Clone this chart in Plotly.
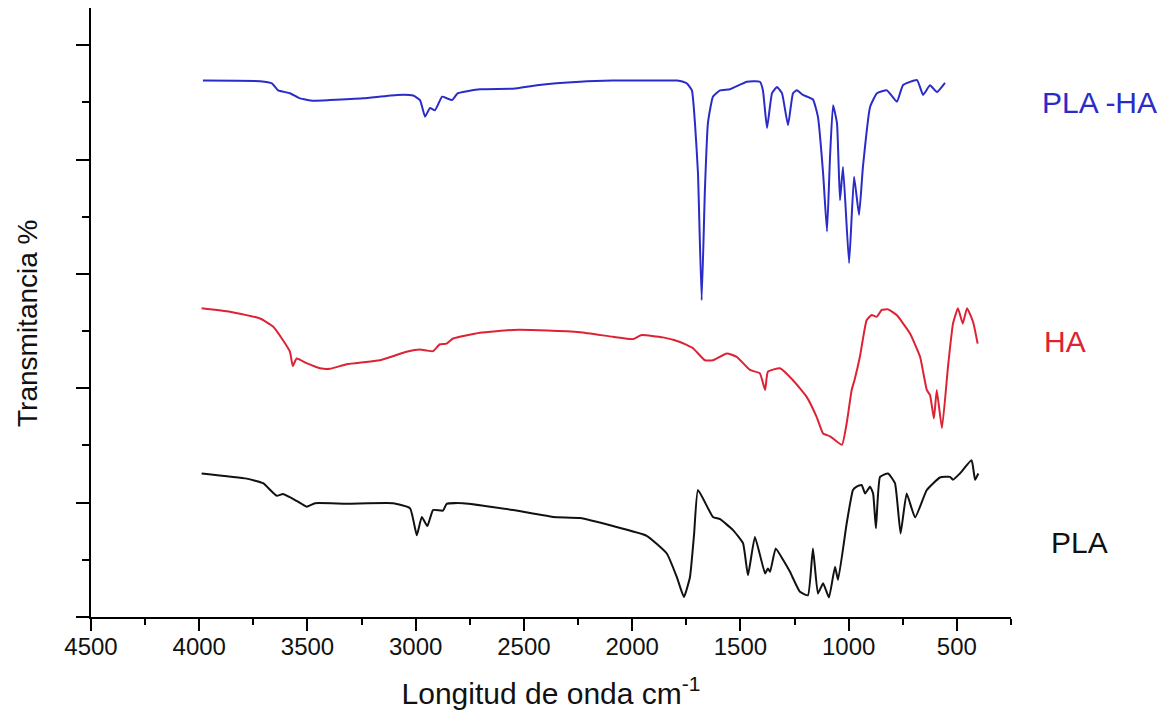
import plotly.graph_objects as go

# ---- data (wavenumber cm-1, transmittance arb. units) ----
pla_ha_wn = [3983, 3719, 3664, 3636, 3581, 3534, 3474, 3396, 3243, 3086,
             3012, 2980, 2957, 2934, 2911, 2878, 2855, 2832, 2805, 2703,
             2550, 2440, 2241, 2089, 1932, 1793, 1765, 1747, 1724, 1710,
             1696, 1679, 1664, 1650, 1627, 1594, 1548, 1470, 1410, 1396,
             1377, 1354, 1331, 1308, 1280, 1257, 1239, 1211, 1165, 1142,
             1118, 1100, 1086, 1072, 1054, 1040, 1026, 998, 975, 952,
             934, 901, 869, 823, 777, 749, 684, 656, 624, 592, 555]
pla_ha_t = [93.8, 93.7, 93.3, 92.1, 91.6, 90.7, 90.3, 90.4, 90.7, 91.3,
            91.2, 90.4, 87.5, 89.0, 88.6, 91.0, 90.7, 90.4, 91.6, 92.3,
            92.4, 93.0, 93.6, 93.8, 93.8, 93.8, 93.6, 93.3, 92.1, 86.4,
            77.6, 55.4, 74.7, 86.4, 91.0, 92.1, 92.3, 93.6, 93.6, 92.1,
            85.5, 91.6, 92.7, 91.6, 86.0, 91.6, 92.1, 91.3, 90.5, 87.5,
            77.6, 67.4, 80.5, 89.5, 86.4, 72.9, 78.7, 61.9, 77.0, 70.3,
            78.7, 89.2, 91.6, 92.1, 90.1, 93.0, 93.9, 91.3, 93.0, 91.8, 93.4]

ha_wn = [3989, 3858, 3719, 3659, 3613, 3581, 3568, 3550, 3504, 3442,
         3396, 3319, 3165, 3042, 2980, 2949, 2920, 2888, 2857, 2828,
         2703, 2550, 2393, 2241, 2089, 1996, 1956, 1858, 1779, 1719,
         1664, 1627, 1563, 1517, 1456, 1410, 1386, 1373, 1317, 1257,
         1194, 1148, 1118, 1086, 1031, 1009, 986, 971, 948, 917,
         894, 870, 847, 818, 778, 717, 670, 639, 624, 606,
         593, 569, 541, 518, 495, 473, 453, 425, 404]
ha_t = [54.0, 53.4, 52.2, 50.8, 48.4, 46.4, 43.9, 45.2, 44.4, 43.5,
        43.4, 44.2, 44.9, 46.4, 46.8, 46.6, 46.5, 47.7, 47.8, 48.7,
        49.7, 50.2, 50.1, 49.8, 49.0, 48.6, 49.3, 48.9, 48.1, 47.0,
        44.9, 44.9, 46.1, 45.5, 43.2, 42.6, 39.7, 42.9, 43.5, 41.4,
        38.5, 35.0, 32.1, 31.6, 30.1, 33.9, 39.7, 41.7, 45.5, 51.9,
        52.8, 52.5, 53.7, 53.8, 52.8, 49.6, 45.5, 39.7, 38.8, 34.7,
        39.7, 33.0, 43.8, 51.3, 54.0, 51.3, 54.0, 51.6, 47.8]

pla_wn = [3989, 3781, 3705, 3642, 3613, 3550, 3504, 3465, 3319, 3105,
          3026, 2995, 2972, 2946, 2920, 2874, 2857, 2782, 2550, 2366,
          2241, 2089, 1933, 1840, 1794, 1761, 1733, 1714, 1696, 1627,
          1594, 1534, 1488, 1465, 1433, 1386, 1373, 1363, 1337, 1303,
          1271, 1225, 1188, 1165, 1142, 1118, 1091, 1063, 1049, 1009,
          980, 963, 940, 924, 901, 887, 874, 855, 818, 786,
          760, 732, 693, 639, 578, 532, 518, 486, 432, 416, 401]
pla_t = [25.1, 24.2, 23.4, 21.2, 21.5, 20.3, 19.3, 19.9, 19.8, 19.9,
         19.0, 14.3, 17.5, 15.9, 18.7, 18.6, 19.8, 19.9, 18.7, 17.5,
         17.3, 15.9, 14.2, 11.1, 7.0, 3.5, 7.0, 14.5, 22.2, 17.5,
         17.1, 15.2, 12.9, 7.3, 14.0, 7.6, 8.5, 7.9, 12.0, 10.0,
         7.9, 4.4, 3.8, 12.0, 4.1, 5.9, 3.4, 8.8, 6.5, 16.4,
         22.2, 22.8, 23.1, 21.6, 22.8, 21.6, 15.5, 24.5, 25.1, 23.4,
         14.6, 21.6, 17.4, 22.2, 24.4, 24.5, 24.0, 25.1, 27.4, 24.0, 25.1]

series_names = ["PLA -HA", "HA", "PLA"]
series_colors = ["#2b2bc8", "#dd2233", "#111111"]
label_y = [0.845, 0.4516, 0.123]
label_x = [1.0315, 1.0335, 1.0415]

x_range = [4500, 250]
y_range = [0, 106.5]

FONT = "Liberation Sans, Arial, sans-serif"

fig = go.Figure()
for name, wn, t, col in zip(series_names,
                            [pla_ha_wn, ha_wn, pla_wn],
                            [pla_ha_t, ha_t, pla_t],
                            series_colors):
    fig.add_trace(go.Scatter(x=wn, y=t, mode="lines", name=name,
                             line=dict(color=col, width=2,
                                       shape="spline", smoothing=0.4),
                             showlegend=False))

for name, col, lx, ly in zip(series_names, series_colors, label_x, label_y):
    fig.add_annotation(text=name, xref="paper", yref="paper", x=lx, y=ly,
                       xanchor="left", yanchor="middle", showarrow=False,
                       font=dict(family=FONT, size=30, color=col))

# y-axis title placed as rotated text left of the axis
fig.add_annotation(text="Transmitancia %", xref="paper", yref="paper",
                   x=-0.069, y=0.482, xanchor="center", yanchor="middle",
                   textangle=-90, showarrow=False,
                   font=dict(family=FONT, size=28, color="#111111"))

fig.update_layout(
    width=1168, height=715,
    margin=dict(l=91, r=157, t=8, b=98),
    plot_bgcolor="white", paper_bgcolor="white",
    font=dict(family=FONT, color="#111111"),
)
fig.update_xaxes(
    range=x_range, tick0=0, dtick=500,
    ticks="outside", ticklen=12, tickwidth=2, tickcolor="black",
    ticklabelstandoff=-5,
    showline=True, linecolor="black", linewidth=2,
    showgrid=False, zeroline=False,
    tickfont=dict(size=24, color="#111111"),
    minor=dict(dtick=250, tick0=0, ticks="outside", ticklen=6,
               tickwidth=2, tickcolor="black", showgrid=False),
    title=dict(text="Longitud de onda cm<sup>-1</sup>",
               font=dict(size=30, color="#111111"), standoff=24),
)
fig.update_yaxes(
    range=y_range, tick0=0, dtick=20,
    ticks="outside", ticklen=13, tickwidth=2, tickcolor="black",
    showticklabels=False,
    showline=True, linecolor="black", linewidth=2,
    showgrid=False, zeroline=False,
    minor=dict(dtick=10, tick0=0, ticks="outside", ticklen=7,
               tickwidth=2, tickcolor="black", showgrid=False),
)

fig.write_html("out.html")
